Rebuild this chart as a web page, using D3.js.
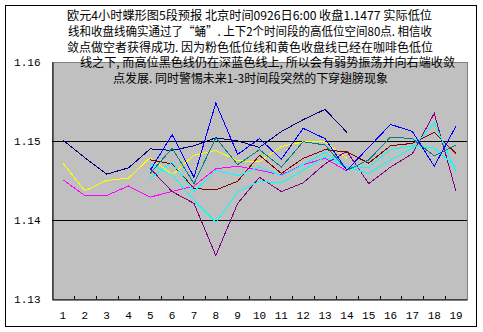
<!DOCTYPE html>
<html>
<head>
<meta charset="utf-8">
<script src="https://cdn.jsdelivr.net/npm/d3@7"></script>
<style>
  html, body { margin: 0; padding: 0; background: #ffffff; }
  svg { display: block; }
</style>
</head>
<body>
<svg id="chart" width="483" height="332"></svg>
<script>
// Time-segment categories along the bottom axis
const categories = ["1","2","3","4","5","6","7","8","9","10","11","12","13","14","15","16","17","18","19"];
const yTicks = [1.13, 1.14, 1.15, 1.16];

// Forecast lines (null = no value for that segment)
const navyLine    = [1.1501,1.1479,1.1458,1.1466,1.1490,1.1488,1.1494,1.1504,1.1500,1.1492,1.1512,1.1527,1.1540,1.1511,null,null,null,null,null];
const blueLine    = [null,null,null,null,1.1463,1.1508,1.1454,1.1548,1.1483,1.1503,1.1477,1.1516,1.1503,1.1463,1.1492,1.1521,1.1512,1.1468,1.1519];
const tealLine    = [null,null,null,null,1.1459,1.1491,1.1446,1.1504,1.1470,1.1489,1.1467,1.1499,1.1495,1.1463,1.1476,1.1505,1.1503,1.1481,1.1495];
const yellowLine  = [1.1472,1.1437,1.1450,1.1453,1.1479,1.1457,1.1482,1.1488,1.1475,1.1474,1.1493,1.1499,1.1499,1.1478,null,null,null,null,null];
const magentaLine = [1.1451,1.1431,1.1431,1.1443,1.1429,1.1436,1.1443,1.1465,1.1468,1.1463,1.1457,1.1470,1.1478,1.1462,null,null,null,null,null];
const purpleLine  = [null,null,null,null,1.1465,1.1436,1.1421,1.1355,1.1421,1.1454,1.1436,1.1447,1.1471,1.1487,1.1446,1.1467,1.1484,1.1535,1.1436];
const brownLine   = [null,null,null,null,1.1476,1.1471,1.1440,1.1438,1.1449,1.1482,1.1459,1.1478,1.1489,1.1486,1.1472,1.1494,1.1497,1.1511,1.1484];
const cyanLineA   = [null,null,null,null,1.1471,1.1457,1.1425,1.1397,1.1435,1.1449,1.1447,1.1463,1.1480,1.1467,1.1459,1.1476,1.1491,1.1523,1.1461];
const cyanLineB   = [null,null,null,null,1.1453,1.1473,1.1436,1.1463,1.1456,1.1467,1.1456,1.1470,1.1486,1.1467,1.1467,1.1489,1.1494,1.1491,1.1467];

const seriesList = [
  { values: navyLine,    color: "#000080" },
  { values: yellowLine,  color: "#ffff00" },
  { values: magentaLine, color: "#ff00ff" },
  { values: purpleLine,  color: "#800080" },
  { values: brownLine,   color: "#800000" },
  { values: cyanLineA,   color: "#00ffff" },
  { values: cyanLineB,   color: "#00ffff" },
  { values: tealLine,    color: "#008080" },
  { values: blueLine,    color: "#0000ff" }
];

const titleLines = [
  "欧元4小时蝶形图5段预报 北京时间0926日6:00 收盘1.1477 实际低位",
  "线和收盘线确实通过了“蛹”. 上下2个时间段的高低位空间80点. 相信收",
  "敛点做空者获得成功. 因为粉色低位线和黄色收盘线已经在咖啡色低位",
  "线之下, 而高位黑色线仍在深蓝色线上, 所以会有弱势振荡并向右端收敛",
  "点发展. 同时警惕未来1-3时间段突然的下穿翅膀现象"
];

const svg = d3.select("#chart");
const plot = { left: 52, right: 467, top: 62, bottom: 299 };

// Outer frame
svg.append("rect")
  .attr("x", 5.5).attr("y", 5.5)
  .attr("width", 471).attr("height", 321)
  .attr("fill", "#ffffff").attr("stroke", "#000000").attr("stroke-width", 1);

const x = d3.scaleBand().domain(categories).range([plot.left, plot.right]).padding(0);
const y = d3.scaleLinear().domain([1.13, 1.16]).range([plot.bottom, plot.top]);
const cx = c => x(c) + x.bandwidth() / 2;

// Plot background
svg.append("rect")
  .attr("x", plot.left + 0.5).attr("y", plot.top + 0.5)
  .attr("width", plot.right - plot.left).attr("height", plot.bottom - plot.top)
  .attr("fill", "#c0c0c0").attr("stroke", "#808080").attr("stroke-width", 1);

// Horizontal gridlines at the inner ticks
svg.append("g")
  .selectAll("line")
  .data(yTicks.filter(t => t > 1.13 && t < 1.16))
  .join("line")
  .attr("x1", plot.left).attr("x2", plot.right)
  .attr("y1", d => Math.round(y(d)) + 0.5).attr("y2", d => Math.round(y(d)) + 0.5)
  .attr("stroke", "#000000").attr("stroke-width", 1);

// Y axis
const yAxis = svg.append("g")
  .attr("transform", `translate(${plot.left + 0.5},0)`)
  .call(d3.axisLeft(y).tickValues(yTicks).tickSize(0).tickPadding(12).tickFormat(d3.format(".2f")));
yAxis.select(".domain").attr("stroke", "#000000");
yAxis.selectAll("text")
  .attr("font-family", "'Liberation Mono', 'DejaVu Sans Mono', monospace")
  .attr("font-size", 11).attr("fill", "#000000");

// X axis with inward ticks on the category boundaries
const xAxis = svg.append("g")
  .attr("transform", `translate(0,${plot.bottom + 0.5})`)
  .call(d3.axisBottom(x).tickSize(0).tickPadding(12));
xAxis.select(".domain").attr("stroke", "#000000");
xAxis.selectAll("text")
  .attr("font-family", "'Liberation Mono', 'DejaVu Sans Mono', monospace")
  .attr("font-size", 11).attr("fill", "#000000");
svg.append("g")
  .selectAll("line")
  .data(categories.slice(1))
  .join("line")
  .attr("x1", d => Math.round(x(d)) + 0.5).attr("x2", d => Math.round(x(d)) + 0.5)
  .attr("y1", plot.bottom).attr("y2", plot.bottom - 3)
  .attr("stroke", "#000000");

// Series lines
const line = d3.line()
  .defined(d => d.v != null)
  .x(d => cx(d.c))
  .y(d => y(d.v));

svg.append("g")
  .selectAll("path")
  .data(seriesList)
  .join("path")
  .attr("d", s => line(s.values.map((v, i) => ({ c: categories[i], v }))))
  .attr("fill", "none")
  .attr("stroke", s => s.color)
  .attr("stroke-width", 1)
  .attr("shape-rendering", "crispEdges");

// Title block
const titleX = [67, 68, 67, 80, 113];
const titleW = [365, 364, 366, 375, 275];
svg.append("g")
  .selectAll("text")
  .data(titleLines)
  .join("text")
  .attr("x", (d, i) => titleX[i])
  .attr("y", (d, i) => 20 + i * 15.8)
  .attr("textLength", (d, i) => titleW[i])
  .attr("lengthAdjust", "spacingAndGlyphs")
  .attr("font-family", "'Noto Sans CJK SC', sans-serif")
  .attr("font-size", 12)
  .attr("fill", "#000000")
  .text(d => d);
</script>
</body>
</html>
